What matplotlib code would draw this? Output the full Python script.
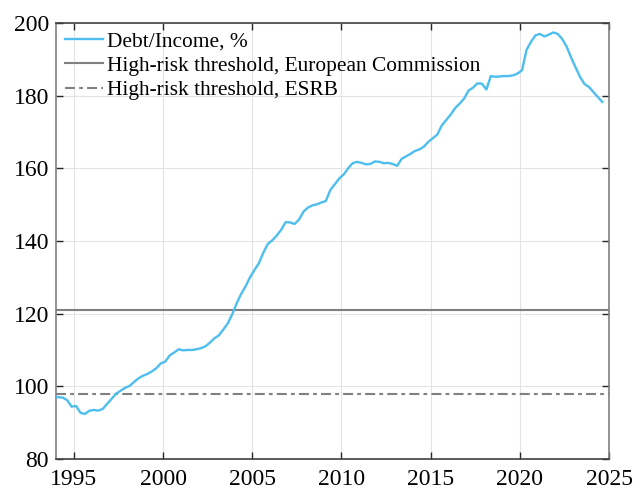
import numpy as np
import matplotlib
matplotlib.use("Agg")
import matplotlib.pyplot as plt

plt.rcParams['font.family'] = ['Liberation Serif', 'DejaVu Serif']

start_year = 1993.875
debt_income = [
    97.2,
    97.0, 96.9, 96.2, 94.4,
    94.6, 92.7, 92.4, 93.3,
    93.5, 93.3, 93.8, 95.2,
    96.6, 98.0, 98.8, 99.6,
    100.1, 101.2, 102.2, 102.9,
    103.4, 104.1, 105.0, 106.3,
    106.8, 108.5, 109.3, 110.2,
    109.9, 110.0, 110.0, 110.2,
    110.5, 111.0, 112.0, 113.2,
    114.0, 115.6, 117.3, 119.8,
    122.8, 125.4, 127.5, 130.0,
    132.0, 133.9, 136.8, 139.2,
    140.2, 141.5, 143.1, 145.2,
    145.1, 144.7, 145.9, 148.1,
    149.2, 149.8, 150.1, 150.6,
    151.0, 154.0, 155.6, 157.2,
    158.3, 160.0, 161.4, 161.8,
    161.5, 161.1, 161.2, 161.9,
    161.8, 161.4, 161.5, 161.2,
    160.7, 162.6, 163.3, 164.0,
    164.8, 165.2, 166.0, 167.3,
    168.3, 169.3, 171.8, 173.3,
    174.8, 176.6, 177.8, 179.2,
    181.4, 182.2, 183.4, 183.3,
    181.7, 185.4, 185.2, 185.3,
    185.4, 185.4, 185.6, 186.1,
    187.0, 192.6, 194.8, 196.6,
    197.0, 196.3, 196.8, 197.4,
    197.0, 195.6, 193.5, 190.5,
    187.8, 185.2, 183.2, 182.4,
    181.0, 179.6, 178.3,
]
ec_threshold = 121
esrb_threshold = 98
x_ticks = [1995, 2000, 2005, 2010, 2015, 2020, 2025]
y_ticks = [80, 100, 120, 140, 160, 180, 200]

t = start_year + 0.25 * np.arange(len(debt_income))

fig = plt.figure(figsize=(6.34, 4.93), dpi=100)
ax = fig.add_axes([0.0883, 0.069, 0.8723, 0.8843])

ax.plot(t, debt_income, color='#4DBEEE', lw=1.7, label='Debt/Income, %', zorder=3)
ax.axhline(ec_threshold, color='#808080', lw=1.5, ls='-',
           label='High-risk threshold, European Commission', zorder=2)
ax.axhline(esrb_threshold, color='#808080', lw=1.5, ls=(0, (4.8, 2.0, 1.8, 2.0)),
           label='High-risk threshold, ESRB', zorder=2)

ax.set_xlim(1994, 2025)
ax.set_ylim(80, 200)
ax.set_xticks(x_ticks)
ax.set_yticks(y_ticks)
ax.grid(True, color='#e3e3e3', lw=0.8)
ax.set_axisbelow(True)

ax.tick_params(direction='in', length=5, width=1, top=True, right=True,
               labelsize=17, colors='#262626', labelcolor='black')
ax.tick_params(axis='x', pad=7)
ax.tick_params(axis='y', pad=5)
for side in ['left', 'right']:
    ax.spines[side].set_color('#808080')
    ax.spines[side].set_linewidth(1.2)
for side in ['top', 'bottom']:
    ax.spines[side].set_color('#404040')
    ax.spines[side].set_linewidth(1.2)

leg = ax.legend(loc='upper left', frameon=False, fontsize=15.4, handlelength=1.78,
                handletextpad=0.2, labelspacing=0.2, borderaxespad=0.0)

fig.savefig('out.png', dpi=100)
